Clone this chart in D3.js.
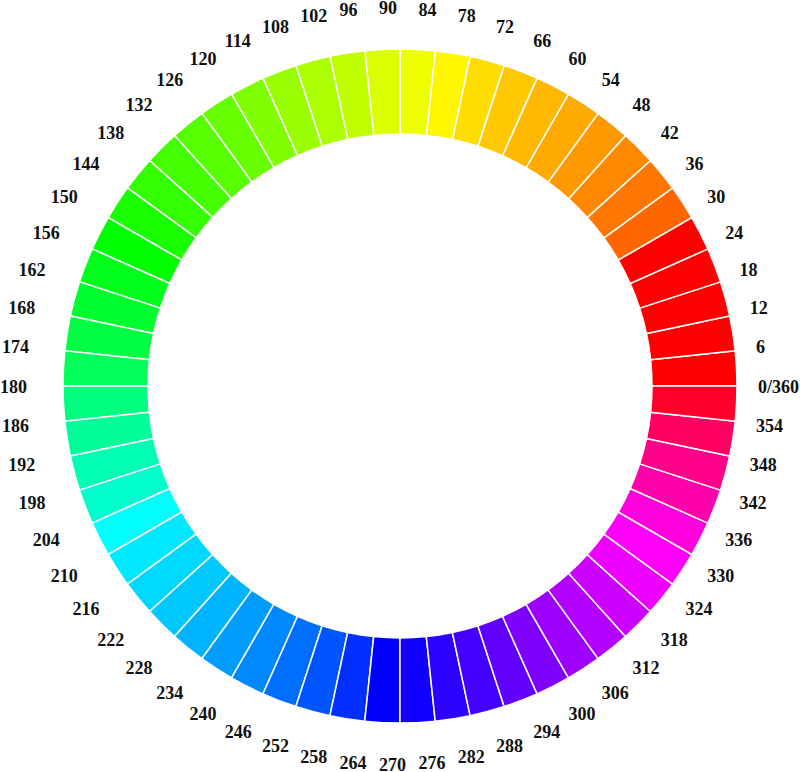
<!DOCTYPE html>
<html>
<head>
<meta charset="utf-8">
<script src="https://cdn.jsdelivr.net/npm/d3@7/dist/d3.min.js"></script>
<style>
  html, body { margin: 0; padding: 0; background: #ffffff; }
  svg { display: block; }
</style>
</head>
<body>
<script>
// Segment start angles (degrees, counter-clockwise from east), each segment spans 6°
const segmentStarts = d3.range(0, 360, 6);
// Hue shown in each segment
const segmentHues = [
  0, 0, 0, 0, 0, 24, 28, 32, 36, 40,
  43, 47, 52, 58, 64, 69, 75, 80, 84, 90,
  96, 100, 104, 108, 114, 120, 126, 131, 136, 141,
  150, 156, 162, 168, 180, 185, 189, 193, 198, 203,
  208, 214, 220, 229, 240, 244, 250, 256, 263, 270,
  277, 282, 288, 296, 301, 308, 320, 328, 337, 350
];
// Tick labels at each boundary
const tickLabels = segmentStarts.map(d => d === 0 ? "0/360" : String(d));

const W = 800, H = 772;
const cx = 400, cy = 386;
const outerR = 337, innerR = 252;
const labelCx = 379, labelCy = 386.5, labelRx = 379, labelRy = 378.5;

const svg = d3.select("body").append("svg")
  .attr("width", W).attr("height", H);

// angle scale: math degrees -> d3 arc radians (clockwise from 12 o'clock)
const angle = d3.scaleLinear().domain([0, 360]).range([Math.PI / 2, Math.PI / 2 - 2 * Math.PI]);

const arc = d3.arc().innerRadius(innerR).outerRadius(outerR);

const g = svg.append("g").attr("transform", `translate(${cx},${cy})`);

g.selectAll("path.seg")
  .data(segmentStarts.map((s, i) => ({ start: s, hue: segmentHues[i] })))
  .join("path")
  .attr("class", "seg")
  .attr("d", d => arc({ startAngle: angle(d.start + 6), endAngle: angle(d.start) }))
  .attr("fill", d => d3.hsl(d.hue, 1, 0.5).formatHex())
  .attr("stroke", "#ffffff")
  .attr("stroke-width", 1.5);

svg.append("g").selectAll("text")
  .data(segmentStarts.map((s, i) => ({ a: s, label: tickLabels[i] })))
  .join("text")
  .attr("x", d => labelCx + labelRx * Math.cos(d.a * Math.PI / 180))
  .attr("y", d => labelCy - labelRy * Math.sin(d.a * Math.PI / 180))
  .attr("text-anchor", "start")
  .attr("dominant-baseline", "central")
  .attr("font-family", "'Liberation Serif', 'DejaVu Serif', serif")
  .attr("font-weight", "bold")
  .attr("font-size", 18)
  .attr("fill", "#111111")
  .text(d => d.label);
</script>
</body>
</html>
